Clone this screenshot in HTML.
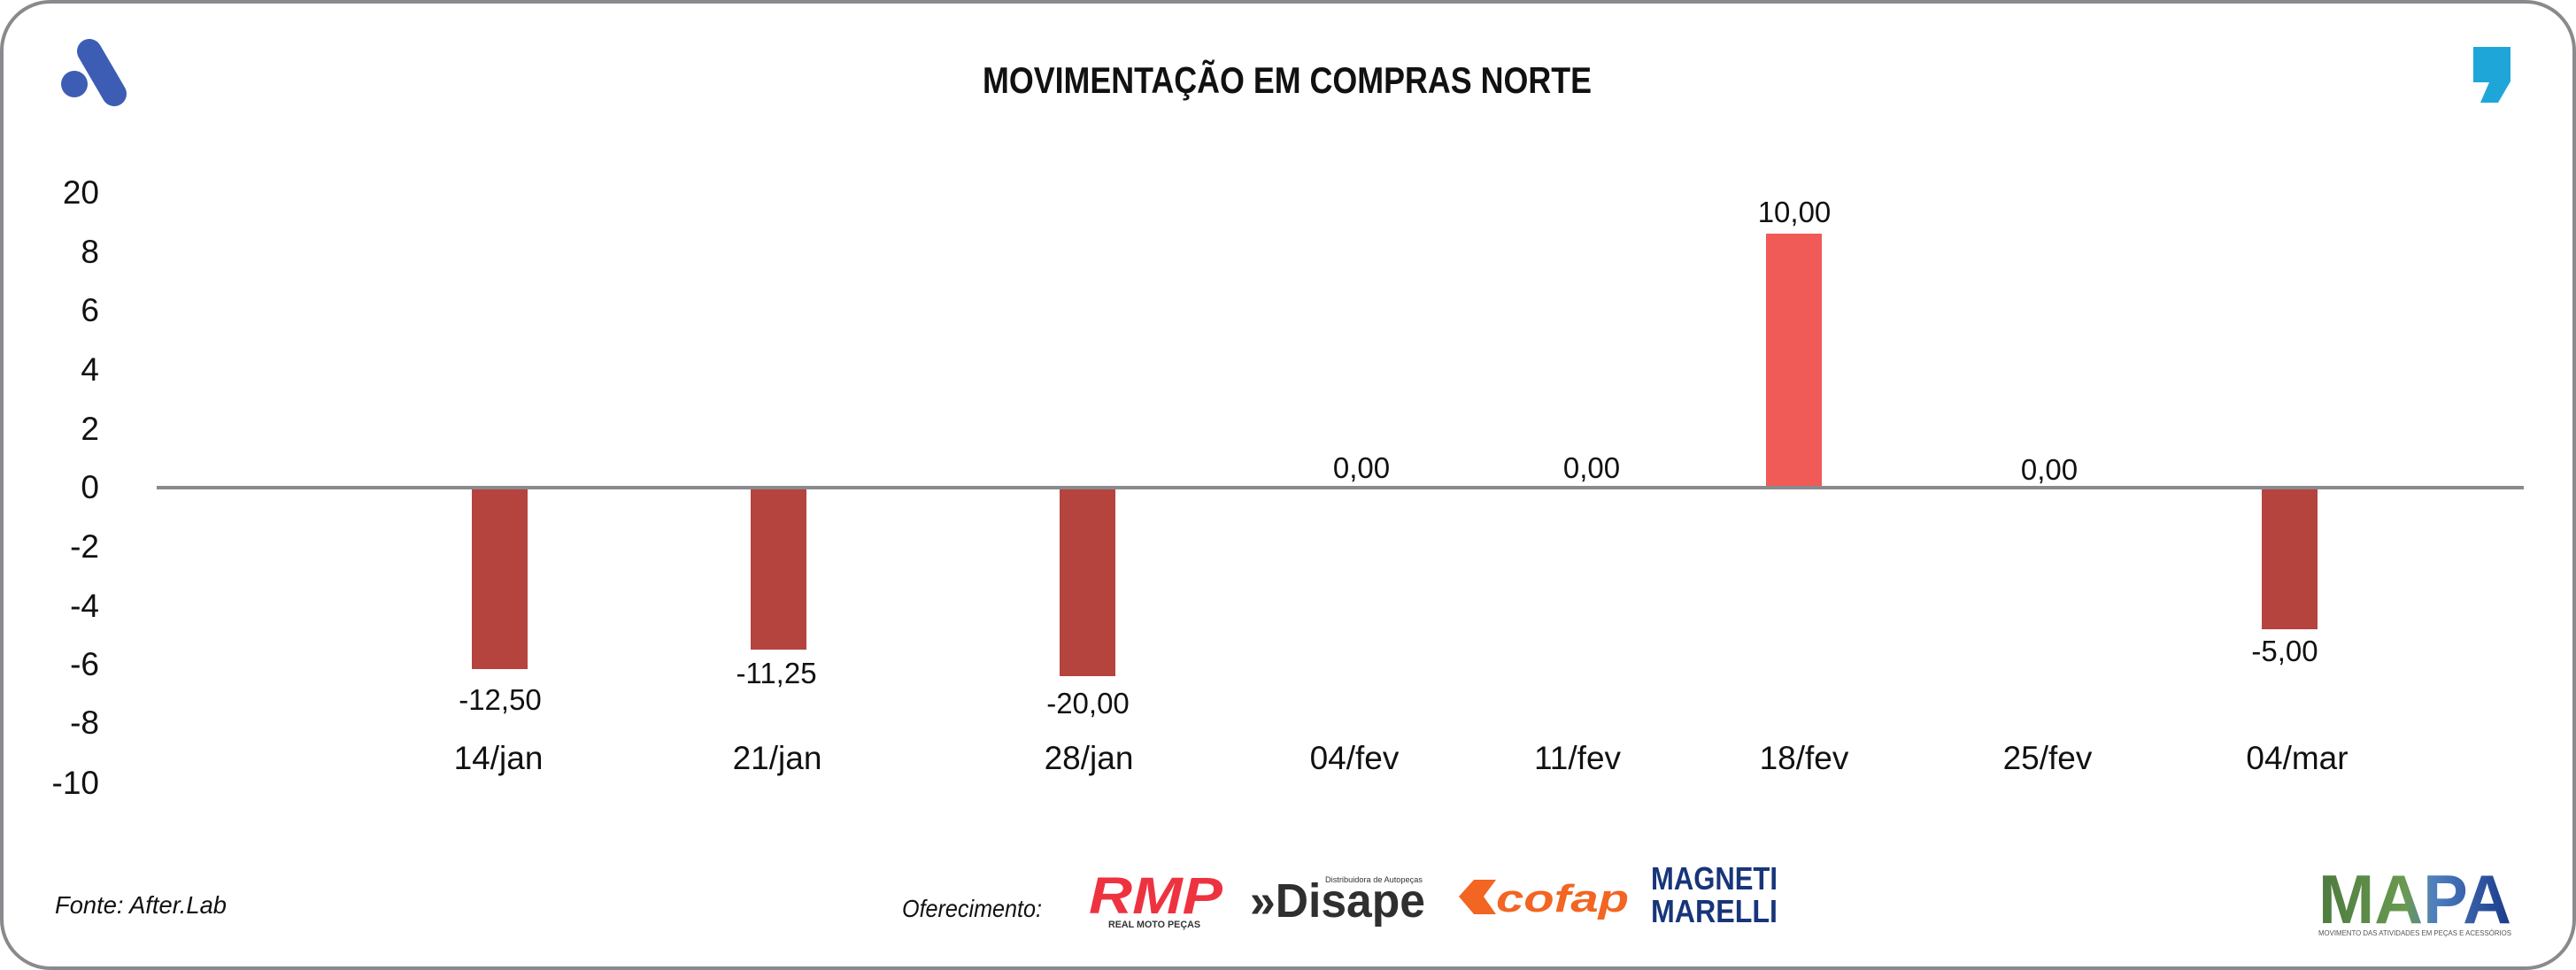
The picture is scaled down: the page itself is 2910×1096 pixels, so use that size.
<!DOCTYPE html>
<html><head><meta charset="utf-8"><style>
html,body{margin:0;padding:0;background:#fff;}
svg{display:block;}
text{font-family:"Liberation Sans",sans-serif;}
</style></head><body>
<svg width="2910" height="1096" viewBox="0 0 2910 1096" xmlns="http://www.w3.org/2000/svg">
<defs>
<linearGradient id="mapa" x1="0" x2="1" y1="0" y2="0">
<stop offset="0" stop-color="#4d7a3e"/><stop offset="0.45" stop-color="#6a9a50"/><stop offset="0.6" stop-color="#4f7fc0"/><stop offset="1" stop-color="#1a3a8a"/>
</linearGradient>
</defs>
<rect x="2" y="2" width="2906" height="1092" rx="55" ry="55" fill="#fff" stroke="#8a8a8e" stroke-width="4"/>
<!-- A logo -->
<circle cx="84" cy="95" r="15" fill="#3d5db5"/>
<line x1="101" y1="58" x2="129" y2="106" stroke="#3d5db5" stroke-width="28" stroke-linecap="round"/>
<!-- comma logo -->
<path d="M2794 53 H2836 V92 L2822 116 H2802 L2812 93 H2794 Z" fill="#1fa6d8"/>
<!-- title -->
<text x="1110" y="105" font-size="42" font-weight="bold" fill="#111" textLength="688" lengthAdjust="spacingAndGlyphs">MOVIMENTAÇÃO EM COMPRAS NORTE</text>
<!-- y ticks -->
<g font-size="37" fill="#111" text-anchor="end">
<text x="112" y="230">20</text>
<text x="112" y="297">8</text>
<text x="112" y="363">6</text>
<text x="112" y="430">4</text>
<text x="112" y="497">2</text>
<text x="112" y="563">0</text>
<text x="112" y="630">-2</text>
<text x="112" y="697">-4</text>
<text x="112" y="763">-6</text>
<text x="112" y="829">-8</text>
<text x="112" y="897">-10</text>
</g>
<!-- bars -->
<rect x="533" y="552" width="63" height="204" fill="#b5443f"/>
<rect x="848" y="552" width="63" height="182" fill="#b5443f"/>
<rect x="1197" y="552" width="63" height="212" fill="#b5443f"/>
<rect x="1995" y="264" width="63" height="288" fill="#f05a57"/>
<rect x="2555" y="552" width="63" height="159" fill="#b5443f"/>
<line x1="177" y1="551" x2="2851" y2="551" stroke="#8a8a8e" stroke-width="4"/>
<!-- value labels -->
<g font-size="33" fill="#111" text-anchor="middle">
<text x="565" y="802">-12,50</text>
<text x="877" y="772">-11,25</text>
<text x="1229" y="806">-20,00</text>
<text x="1538" y="540">0,00</text>
<text x="1798" y="540">0,00</text>
<text x="2027" y="251">10,00</text>
<text x="2315" y="542">0,00</text>
<text x="2581" y="747">-5,00</text>
</g>
<!-- category labels -->
<g font-size="37" fill="#111" text-anchor="middle">
<text x="563" y="869">14/jan</text>
<text x="878" y="869">21/jan</text>
<text x="1230" y="869">28/jan</text>
<text x="1530" y="869">04/fev</text>
<text x="1782" y="869">11/fev</text>
<text x="2038" y="869">18/fev</text>
<text x="2313" y="869">25/fev</text>
<text x="2595" y="869">04/mar</text>
</g>
<!-- footer -->
<text x="62" y="1032" font-size="28" font-style="italic" fill="#111" textLength="194" lengthAdjust="spacingAndGlyphs">Fonte: After.Lab</text>
<text x="1019" y="1036" font-size="28" font-style="italic" fill="#111" textLength="158" lengthAdjust="spacingAndGlyphs">Oferecimento:</text>
<!-- RMP -->
<text x="1230" y="1032" font-size="58" font-weight="bold" font-style="italic" fill="#ee3340" textLength="151" lengthAdjust="spacingAndGlyphs">RMP</text>
<text x="1252" y="1048" font-size="11" font-weight="bold" fill="#333" textLength="104" lengthAdjust="spacingAndGlyphs">REAL MOTO PEÇAS</text>
<!-- Disape -->
<text x="1412" y="1036" font-size="54" font-weight="bold" fill="#2f2f2f" textLength="198" lengthAdjust="spacingAndGlyphs">»Disape</text>
<text x="1497" y="997" font-size="9" fill="#333" textLength="110" lengthAdjust="spacingAndGlyphs">Distribuidora de Autopeças</text>
<!-- cofap -->
<path d="M1648 1013 L1665 994 H1690 L1676 1013 L1690 1033 H1665 Z" fill="#f26522"/>
<text x="1690" y="1030" font-size="44" font-weight="bold" font-style="italic" fill="#f26522" textLength="150" lengthAdjust="spacingAndGlyphs">cofap</text>
<!-- Magneti Marelli -->
<text x="1865" y="1005" font-size="36" font-weight="bold" fill="#17357a" textLength="143" lengthAdjust="spacingAndGlyphs">MAGNETI</text>
<text x="1865" y="1042" font-size="36" font-weight="bold" fill="#17357a" textLength="143" lengthAdjust="spacingAndGlyphs">MARELLI</text>
<!-- MAPA -->
<text x="2619" y="1043" font-size="78" font-weight="bold" fill="url(#mapa)" textLength="218" lengthAdjust="spacingAndGlyphs">MAPA</text>
<text x="2619" y="1057" font-size="8" fill="#555" textLength="218" lengthAdjust="spacingAndGlyphs">MOVIMENTO DAS ATIVIDADES EM PEÇAS E ACESSÓRIOS</text>
</svg>
</body></html>
